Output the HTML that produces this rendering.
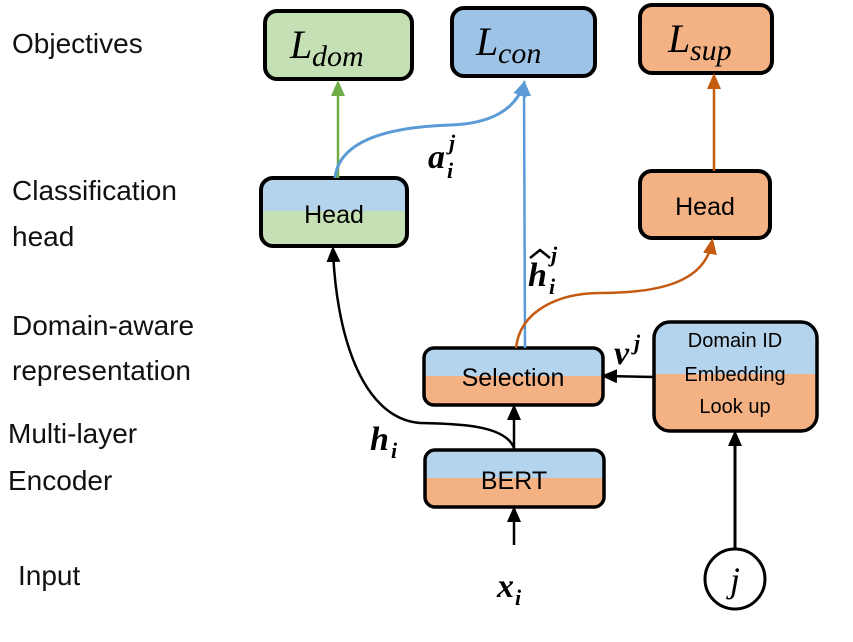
<!DOCTYPE html>
<html><head><style>
body{margin:0;background:#fff;}
svg{display:block;font-family:"Liberation Sans",sans-serif;}
.l{font-size:28px;fill:#111;}
.m{font-family:"Liberation Serif",serif;font-style:italic;font-weight:bold;}
</style></head><body>
<svg width="853" height="642" viewBox="0 0 853 642">
<defs>
<marker id="ab" markerWidth="16" markerHeight="14" refX="12" refY="7" orient="auto" markerUnits="userSpaceOnUse" viewBox="0 0 16 14"><path d="M0,0L16,7L0,14z" fill="#5b9bd5"/></marker>
<marker id="ag" markerWidth="16" markerHeight="14" refX="12" refY="7" orient="auto" markerUnits="userSpaceOnUse" viewBox="0 0 16 14"><path d="M0,0L16,7L0,14z" fill="#70ad47"/></marker>
<marker id="ao" markerWidth="16" markerHeight="14" refX="12" refY="7" orient="auto" markerUnits="userSpaceOnUse" viewBox="0 0 16 14"><path d="M0,0L16,7L0,14z" fill="#c55a11"/></marker>
<marker id="akb" markerWidth="16" markerHeight="14" refX="12" refY="7" orient="auto" markerUnits="userSpaceOnUse" viewBox="0 0 16 14"><path d="M0,0L16,7L0,14z" fill="#000"/></marker>
<clipPath id="c1"><rect x="261" y="178" width="146" height="68" rx="12"/></clipPath>
<clipPath id="c2"><rect x="424" y="348" width="179" height="57" rx="10"/></clipPath>
<clipPath id="c3"><rect x="425" y="450" width="179" height="57" rx="10"/></clipPath>
<clipPath id="c4"><rect x="654" y="322" width="163" height="109" rx="16"/></clipPath>
</defs>
<g class="l">
<text x="12" y="53">Objectives</text>
<text x="12" y="200">Classification</text>
<text x="12" y="246">head</text>
<text x="12" y="335">Domain-aware</text>
<text x="12" y="380">representation</text>
<text x="8" y="443">Multi-layer</text>
<text x="8" y="490">Encoder</text>
<text x="18" y="585">Input</text>
</g>
<rect x="265" y="11" width="147" height="68" rx="12" fill="#c5e0b4" stroke="#000" stroke-width="4"/>
<rect x="452" y="8" width="143" height="68" rx="12" fill="#9dc3e6" stroke="#000" stroke-width="4"/>
<rect x="640" y="5" width="132" height="68" rx="12" fill="#f4b183" stroke="#000" stroke-width="4"/>
<g font-family="Liberation Serif,serif" font-style="italic">
<text x="290" y="58" font-size="40">L</text><text x="312" y="66" font-size="30">dom</text>
<text x="476" y="55" font-size="40">L</text><text x="498" y="63" font-size="30">con</text>
<text x="668" y="52" font-size="40">L</text><text x="690" y="60" font-size="30">sup</text>
</g>
<g clip-path="url(#c1)"><rect x="261" y="178" width="146" height="33" fill="#b4d3ec"/><rect x="261" y="211" width="146" height="35" fill="#c5e0b4"/></g>
<rect x="261" y="178" width="146" height="68" rx="12" fill="none" stroke="#000" stroke-width="4"/>
<text x="334" y="223" font-size="25" text-anchor="middle">Head</text>
<rect x="640" y="171" width="130" height="67" rx="12" fill="#f4b183" stroke="#000" stroke-width="4"/>
<text x="705" y="215" font-size="25" text-anchor="middle">Head</text>
<g clip-path="url(#c2)"><rect x="424" y="348" width="179" height="28" fill="#b4d3ec"/><rect x="424" y="376" width="179" height="30" fill="#f4b183"/></g>
<rect x="424" y="348" width="179" height="57" rx="10" fill="none" stroke="#000" stroke-width="3.5"/>
<text x="513" y="386" font-size="25" text-anchor="middle">Selection</text>
<g clip-path="url(#c3)"><rect x="425" y="450" width="179" height="28" fill="#b4d3ec"/><rect x="425" y="478" width="179" height="30" fill="#f4b183"/></g>
<rect x="425" y="450" width="179" height="57" rx="10" fill="none" stroke="#000" stroke-width="3.5"/>
<text x="514" y="489" font-size="25" text-anchor="middle">BERT</text>
<g clip-path="url(#c4)"><rect x="654" y="322" width="163" height="52" fill="#b4d3ec"/><rect x="654" y="374" width="163" height="58" fill="#f4b183"/></g>
<rect x="654" y="322" width="163" height="109" rx="16" fill="none" stroke="#000" stroke-width="3.5"/>
<text x="735" y="347" font-size="20" text-anchor="middle">Domain  ID</text>
<text x="735" y="381" font-size="20" text-anchor="middle">Embedding</text>
<text x="735" y="413" font-size="20" text-anchor="middle">Look up</text>
<circle cx="735" cy="579" r="30" fill="#fff" stroke="#000" stroke-width="3"/>
<text x="735" y="592" font-size="36" text-anchor="middle" font-family="Liberation Serif,serif" font-style="italic">j</text>
<path d="M338,178 L338,84" stroke="#70ad47" stroke-width="2.5" fill="none" marker-end="url(#ag)"/>
<path d="M335,178 C340,130 420,126 450,125 C490,124 515,110 524,84" stroke="#5b9bd5" stroke-width="3" fill="none" marker-end="url(#ab)"/>
<path d="M525,348 L524,84" stroke="#5b9bd5" stroke-width="2.5" fill="none" marker-end="url(#ab)"/>
<path d="M714,171 L714,77" stroke="#c55a11" stroke-width="2.5" fill="none" marker-end="url(#ao)"/>
<path d="M516,348 C520,310 560,293 600,293 C660,293 705,282 712,242" stroke="#c55a11" stroke-width="2.5" fill="none" marker-end="url(#ao)"/>
<path d="M514,545 L514,510" stroke="#000" stroke-width="2.5" fill="none" marker-end="url(#akb)"/>
<path d="M514,450 L514,408" stroke="#000" stroke-width="2.5" fill="none" marker-end="url(#akb)"/>
<path d="M514,448 C505,425 460,424 420,423 C360,418 336,330 333,250" stroke="#000" stroke-width="2.5" fill="none" marker-end="url(#akb)"/>
<path d="M654,377 L605,376" stroke="#000" stroke-width="2.5" fill="none" marker-end="url(#akb)"/>
<path d="M735,549 L735,434" stroke="#000" stroke-width="3" fill="none" marker-end="url(#akb)"/>
<g class="m">
<text x="428" y="168" font-size="34">a</text><text x="449" y="150" font-size="22">j</text><text x="447" y="178" font-size="22">i</text>
<text x="528" y="286" font-size="34">h</text><text x="551" y="262" font-size="22">j</text><text x="549" y="294" font-size="22">i</text>
<text x="370" y="450" font-size="34">h</text><text x="391" y="458" font-size="22">i</text>
<text x="614" y="364" font-size="34">v</text><text x="634" y="350" font-size="22">j</text>
<text x="497" y="597" font-size="34">x</text><text x="515" y="605" font-size="22">i</text>
</g>
<path d="M530,258 L540,250 L550,258" stroke="#000" stroke-width="2.5" fill="none"/>
</svg>
</body></html>
